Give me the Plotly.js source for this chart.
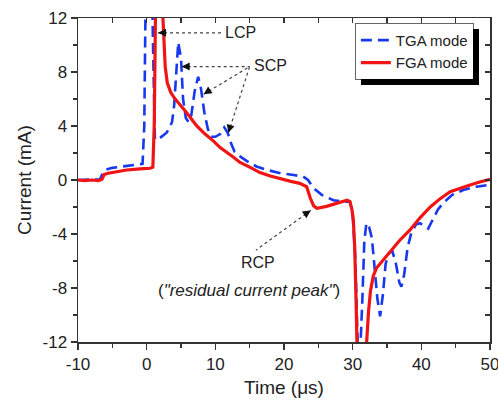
<!DOCTYPE html>
<html>
<head>
<meta charset="utf-8">
<script src="https://cdn.plot.ly/plotly-3.0.1.min.js"></script>
<style>html,body{margin:0;padding:0;background:#fff;}#wrap{position:relative;width:498px;height:410px;}#chart{width:498px;height:410px;}.shadow{position:absolute;background:#000;z-index:10;pointer-events:none;}</style>
</head>
<body>
<div id="wrap"><div id="chart"></div><div id="shR" class="shadow"></div><div id="shB" class="shadow"></div></div>
<script>
// TGA mode (blue dashed)
const tgaTime = [-10, -8, -6.8, -6.4, -6.0, -5.0, -3.5, -2.0, -0.6, -0.35, -0.15, 0.3, 0.8, 1.0, 1.2, 1.9, 2.9, 3.4, 3.7, 4.0, 4.3, 4.6, 5.0, 5.3, 5.7, 6.1, 6.5, 7.0, 7.5, 7.9, 8.4, 8.9, 9.4, 10.0, 10.7, 11.3, 11.8, 12.3, 12.8, 13.6, 14.6, 16.0, 17.5, 19.5, 21.4, 22.8, 23.5, 24.3, 25.5, 27.2, 28.6, 29.6, 30.0, 30.4, 30.8, 31.0, 31.4, 31.7, 32.0, 32.4, 32.8, 33.2, 33.6, 34.0, 34.4, 34.8, 35.3, 35.8, 36.3, 36.8, 37.1, 37.5, 38.0, 38.5, 39.2, 39.8, 40.5, 41.0, 41.6, 42.4, 43.2, 44.5, 46.1, 48.0, 50.0];
const tgaCurrent = [0, 0, 0.05, 0.5, 0.75, 0.9, 1.0, 1.1, 1.2, 4.0, 13.5, 15, 13.5, 8.0, 3.0, 3.1, 3.5, 3.95, 4.3, 5.5, 8.0, 10.2, 9.0, 6.0, 4.6, 4.3, 4.8, 6.6, 7.65, 6.8, 5.0, 3.8, 3.2, 3.2, 3.4, 3.9, 3.5, 2.7, 2.1, 1.75, 1.4, 1.0, 0.75, 0.5, 0.37, 0.25, 0.0, -0.6, -1.1, -1.5, -1.6, -1.6, -2.5, -6.0, -13.5, -14, -9.0, -4.5, -3.2, -3.5, -4.3, -6.5, -8.8, -10.1, -8.5, -6.2, -5.4, -5.3, -6.2, -7.6, -7.9, -7.0, -5.0, -4.0, -3.3, -3.2, -3.4, -3.6, -3.0, -2.2, -1.7, -1.1, -0.74, -0.5, -0.35];

// FGA mode (red solid)
const fgaTime = [-10, -9, -8, -7, -6.5, -6.2, -5.6, -4.5, -2.9, -1.0, 0.5, 0.9, 1.1, 1.3, 1.6, 2.0, 2.3, 2.5, 2.7, 3.0, 3.5, 4.0, 5.0, 5.8, 7.3, 8.5, 9.7, 10.7, 12.6, 13.6, 15.0, 16.5, 18.0, 19.4, 21.0, 22.3, 23.3, 23.8, 24.3, 24.8, 25.5, 26.2, 27.5, 28.6, 29.2, 29.6, 29.9, 30.1, 30.3, 30.5, 30.7, 31.8, 32.0, 32.3, 32.6, 33.0, 33.5, 34.5, 35.4, 36.8, 38.35, 39.8, 41.3, 42.7, 44.2, 45.6, 47.1, 48.5, 50.0];
const fgaCurrent = [0, -0.05, 0, -0.05, 0.05, 0.4, 0.5, 0.6, 0.74, 0.82, 0.87, 0.95, 4.0, 13.0, 16, 16, 12.3, 10.5, 8.4, 7.2, 6.5, 6.1, 5.5, 5.0, 4.0, 3.4, 2.9, 2.4, 1.7, 1.3, 0.95, 0.55, 0.3, 0.1, -0.1, -0.25, -0.5, -1.3, -1.9, -2.1, -2.05, -1.95, -1.75, -1.6, -1.5, -1.6, -2.2, -3.0, -5.0, -9.0, -14, -14, -12, -9.8, -8.2, -7.1, -6.5, -5.9, -5.3, -4.5, -3.7, -2.8, -2.0, -1.4, -0.87, -0.6, -0.37, -0.15, 0.05];

const seriesNames = ["TGA mode", "FGA mode"];
const xTickVals = [-10, 0, 10, 20, 30, 40, 50];
const xTickText = ["-10", "0", "10", "20", "30", "40", "50"];
const yTickVals = [-12, -8, -4, 0, 4, 8, 12];
const yTickText = ["-12", "-8", "-4", "0", "4", "8", "12"];

const FONT = "Liberation Sans, Arial, sans-serif";
const INK = "#222";

const traces = [
  {x: tgaTime, y: tgaCurrent, name: seriesNames[0], type: "scatter", mode: "lines",
   line: {color: "#1838f0", width: 2.6, dash: "11px,6px"}},
  {x: fgaTime, y: fgaCurrent, name: seriesNames[1], type: "scatter", mode: "lines",
   line: {color: "#f01414", width: 3.2}},
  {x: [], y: [], xaxis: "x2", yaxis: "y2", showlegend: false, hoverinfo: "skip"}
];

function dotted(x0, y0, x1, y1) {
  return {type: "line", xref: "x", yref: "y", x0: x0, y0: y0, x1: x1, y1: y1,
          line: {color: "#444", width: 1.2, dash: "dot"}, layer: "above"};
}
function head(x, y, ax, ay) {
  return {x: x, y: y, xref: "x", yref: "y", text: "", showarrow: true,
          arrowhead: 2, arrowsize: 1, arrowwidth: 1.6, arrowcolor: "#111",
          ax: ax, ay: ay, axref: "pixel", ayref: "pixel", standoff: 0};
}
function label(x, y, text, size) {
  return {x: x, y: y, xref: "x", yref: "y", text: text, showarrow: false,
          font: {family: FONT, size: size || 16, color: INK}};
}

const layout = {
  width: 498, height: 410,
  margin: {l: 78, r: 8, t: 18, b: 68},
  paper_bgcolor: "#fff", plot_bgcolor: "#fff",
  font: {family: FONT, color: INK},
  showlegend: true,
  legend: {x: 0.672, y: 0.985, xanchor: "left", yanchor: "top",
           bgcolor: "#fff", bordercolor: "#666", borderwidth: 1,
           font: {family: FONT, size: 15, color: INK}, tracegroupgap: 0},
  xaxis: {range: [-10, 50], tickmode: "array", tickvals: xTickVals, ticktext: xTickText,
          ticklabeloverflow: "allow",
          ticks: "outside", ticklen: 6, tickwidth: 1.3, tickcolor: "#333",
          minor: {dtick: 5, ticks: "outside", ticklen: 4, tickwidth: 1.2, tickcolor: "#333", showgrid: false},
          showline: true, linecolor: "#333", linewidth: 1.5, showgrid: false, zeroline: false,
          tickfont: {family: FONT, size: 17, color: INK},
          title: {text: "Time (μs)", font: {family: FONT, size: 19, color: INK}, standoff: 8}},
  yaxis: {range: [-12, 12], tickmode: "array", tickvals: yTickVals, ticktext: yTickText,
          ticks: "outside", ticklen: 6, tickwidth: 1.3, tickcolor: "#333",
          minor: {dtick: 2, ticks: "outside", ticklen: 4, tickwidth: 1.2, tickcolor: "#333", showgrid: false},
          showline: true, linecolor: "#333", linewidth: 1.5, showgrid: false, zeroline: false,
          tickfont: {family: FONT, size: 17, color: INK},
          title: {text: "Current (mA)", font: {family: FONT, size: 19, color: INK}, standoff: 6}},
  xaxis2: {overlaying: "x", side: "top", range: [-10, 50], dtick: 5, tick0: 0,
           ticks: "inside", ticklen: 5, tickwidth: 1.2, tickcolor: "#333",
           showticklabels: false, showline: true, linecolor: "#333", linewidth: 1.5,
           showgrid: false, zeroline: false},
  yaxis2: {overlaying: "y", side: "right", range: [-12, 12], dtick: 2, tick0: 0,
           ticks: "inside", ticklen: 5, tickwidth: 1.2, tickcolor: "#333",
           showticklabels: false, showline: true, linecolor: "#333", linewidth: 1.5,
           showgrid: false, zeroline: false},
  shapes: [
    dotted(1.65, 10.9, 10.9, 10.9),
    dotted(5.1, 8.4, 15.0, 8.4),
    dotted(8.3, 6.35, 15.0, 8.4),
    dotted(11.9, 3.5, 15.0, 8.4),
    dotted(23.9, -2.25, 15.9, -5.2)
  ],
  annotations: [
    label(13.7, 10.9, "LCP"),
    label(18.0, 8.45, "SCP"),
    label(16.2, -6.1, "RCP"),
    label(14.9, -8.15, "(<i>\"residual current peak\"</i>)", 17),
    head(1.65, 10.9, 7, 0),
    head(5.1, 8.4, 7, 0),
    head(8.3, 6.35, 6, -4),
    head(11.9, 3.5, 2, -7),
    head(23.9, -2.25, -6, 4)
  ]
};

const gd = document.getElementById("chart");
Plotly.newPlot(gd, traces, layout, {displayModeBar: false, staticPlot: true}).then(function () {
  // legend drop shadow: two strips (right and bottom) placed from the drawn legend box
  const bg = gd.querySelector("g.legend rect.bg");
  if (!bg) return;
  const b = bg.getBoundingClientRect();
  const w = document.getElementById("wrap").getBoundingClientRect();
  const off = 6;
  const L = b.left - w.left, T = b.top - w.top, R = b.right - w.left, B = b.bottom - w.top;
  const shR = document.getElementById("shR");
  shR.style.left = R + "px"; shR.style.top = (T + off) + "px";
  shR.style.width = off + "px"; shR.style.height = (B - T) + "px";
  const shB = document.getElementById("shB");
  shB.style.left = (L + off) + "px"; shB.style.top = B + "px";
  shB.style.width = (R - L) + "px"; shB.style.height = off + "px";
});
</script>
</body>
</html>
